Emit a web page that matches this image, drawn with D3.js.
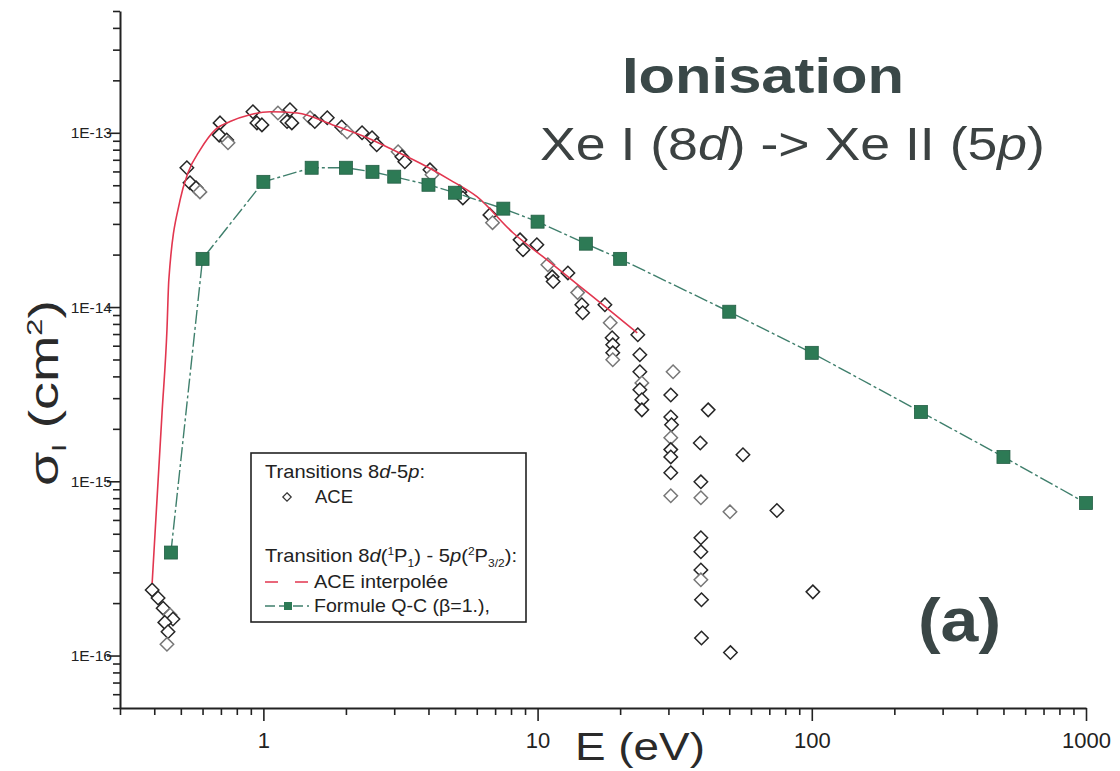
<!DOCTYPE html>
<html>
<head>
<meta charset="utf-8">
<script src="https://cdn.jsdelivr.net/npm/d3@7"></script>
<style>
  body { margin: 0; background: #fff; }
  text { font-family: "Liberation Sans", Arial, sans-serif; }
</style>
</head>
<body>
<svg width="1120" height="771"></svg>
<script>
// ACE points (transitions 8d-5p), E in eV, sigma in cm2
const aceE = [0.393, 0.413, 0.431, 0.457, 0.468, 0.437, 0.449, 0.445,
  0.526, 0.54, 0.568, 0.587,
  0.695, 0.69, 0.735, 0.743,
  0.916, 0.947, 0.988,
  1.13, 1.25, 1.22, 1.27,
  1.48, 1.54, 1.71,
  1.93, 2.02,
  2.29, 2.49, 2.59,
  3.10, 3.2, 3.28,
  4.05, 4.12,
  5.21, 5.34,
  6.7, 6.85,
  8.63, 8.85, 9.94,
  10.9, 11.3, 11.4, 12.9,
  14.0, 14.5, 14.6, 17.6,
  18.4, 18.7, 18.8, 18.8, 18.8,
  23.2, 23.6, 23.6, 24.0, 23.6, 24.0, 24.0,
  31.2, 30.6, 30.6, 30.8, 30.6, 30.6, 30.6, 30.6, 30.6,
  41.9, 39.2, 39.4, 39.4, 39.4, 39.4, 39.4, 39.4, 39.6, 39.6,
  56.1, 50.3, 74.6, 50.5, 100.9];
const aceSigma = [2.38e-16, 2.14e-16, 1.87e-16, 1.71e-16, 1.62e-16, 1.55e-16, 1.37e-16, 1.16e-16,
  6.3e-14, 5.17e-14, 4.83e-14, 4.58e-14,
  1.14e-13, 9.7e-14, 9.1e-14, 8.76e-14,
  1.32e-13, 1.14e-13, 1.11e-13,
  1.30e-13, 1.355e-13, 1.16e-13, 1.14e-13,
  1.22e-13, 1.16e-13, 1.22e-13,
  1.08e-13, 1.01e-13,
  1.0e-13, 9.36e-14, 8.53e-14,
  7.78e-14, 7.28e-14, 6.82e-14,
  6.13e-14, 5.74e-14,
  4.58e-14, 4.23e-14,
  3.38e-14, 3.05e-14,
  2.43e-14, 2.13e-14, 2.28e-14,
  1.75e-14, 1.49e-14, 1.40e-14, 1.57e-14,
  1.21e-14, 1.03e-14, 9.27e-15, 1.03e-14,
  8.13e-15, 6.67e-15, 6.07e-15, 5.46e-15, 4.98e-15,
  6.93e-15, 5.32e-15, 4.25e-15, 3.67e-15, 3.35e-15, 2.94e-15, 2.57e-15,
  4.25e-15, 3.13e-15, 2.34e-15, 2.11e-15, 1.78e-15, 1.52e-15, 1.38e-15, 1.12e-15, 8.26e-16,
  2.57e-15, 1.66e-15, 9.93e-16, 8.04e-16, 4.74e-16, 3.94e-16, 3.1e-16, 2.72e-16, 2.09e-16, 1.26e-16,
  1.42e-15, 6.68e-16, 6.8e-16, 1.04e-16, 2.32e-16];

// ACE interpolee (8d 1P1 - 5p 2P3/2)
const interpE = [0.393, 0.427, 0.445, 0.452, 0.497, 0.531, 0.588, 0.667, 0.756, 0.894, 1.06, 1.33,
  1.79, 2.39, 2.97, 3.95, 4.79, 6.01, 8.13, 10.8, 14.3, 18.8, 23.1];
const interpSigma = [2.61e-16, 2.47e-15, 7.4e-15, 1.43e-14, 4.12e-14, 5.89e-14, 7.98e-14, 1.04e-13, 1.16e-13, 1.27e-13, 1.32e-13, 1.30e-13,
  1.11e-13, 9.36e-14, 7.98e-14, 6.38e-14, 5.37e-14, 4.3e-14, 2.67e-14, 1.87e-14, 1.31e-14, 9.27e-15, 7.1e-15];

// Formule Q-C (beta=1.)
const qcE = [0.46, 0.6, 1, 1.5, 2, 2.5, 3, 4, 5, 7.5, 10, 15, 20, 50, 100, 250, 500, 1000];
const qcSigma = [3.9e-16, 1.89e-14, 5.23e-14, 6.3e-14, 6.3e-14, 5.97e-14, 5.6e-14, 5.03e-14, 4.53e-14,
  3.67e-14, 3.09e-14, 2.31e-14, 1.89e-14, 9.4e-15, 5.46e-15, 2.5e-15, 1.38e-15, 7.5e-16];

const xMajor = [1, 10, 100, 1000];
const xLabels = ["1", "10", "100", "1000"];
const yMajor = [1e-13, 1e-14, 1e-15, 1e-16];
const yLabels = ["1E-13", "1E-14", "1E-15", "1E-16"];

const svg = d3.select("svg");
const plotLeft = 120, plotRight = 1086, plotTop = 11, plotBottom = 708;

const x = d3.scaleLog().domain([0.3, 1000]).range([plotLeft, plotRight]);
const y = d3.scaleLog().domain([5e-17, 5e-13]).range([plotBottom, plotTop]);

// minor ticks 2..9 per decade
const xMinor = [];
for (let d = 0.1; d < 1000; d *= 10) {
  for (let k = 2; k <= 9; k++) {
    const v = +(d * k).toPrecision(3);
    if (v >= 0.3 && v <= 1000) xMinor.push(v);
  }
}
const yMinor = [];
for (let d = 1e-17; d < 1e-12; d *= 10) {
  for (let k = 2; k <= 9; k++) {
    const v = +(d * k).toPrecision(3);
    if (v >= 5e-17 && v <= 5e-13) yMinor.push(v);
  }
}

const axisColor = "#222";

// x axis
const gx = svg.append("g").attr("transform", "translate(0," + plotBottom + ")");
gx.call(d3.axisBottom(x).tickValues(xMinor).tickSize(7).tickSizeOuter(0).tickFormat(""));
gx.call(g => g.select(".domain").remove());
const gx2 = svg.append("g").attr("transform", "translate(0," + plotBottom + ")");
gx2.call(d3.axisBottom(x).tickValues(xMajor).tickSize(13).tickSizeOuter(0)
  .tickFormat((d, i) => xLabels[i]));
gx2.selectAll("text").attr("font-size", 22).attr("dy", "1.1em").attr("fill", axisColor)
  .style("font-family", "Liberation Sans, Arial, sans-serif");

// y axis
const gy = svg.append("g").attr("transform", "translate(" + plotLeft + ",0)");
gy.call(d3.axisLeft(y).tickValues(yMinor).tickSize(7).tickSizeOuter(0).tickFormat(""));
gy.call(g => g.select(".domain").remove());
const gy2 = svg.append("g").attr("transform", "translate(" + plotLeft + ",0)");
gy2.call(d3.axisLeft(y).tickValues(yMajor).tickSize(13).tickSizeOuter(0)
  .tickFormat((d, i) => yLabels[i]));
gy2.selectAll("text").attr("font-size", 15.5).attr("x", -8).attr("fill", axisColor)
  .style("font-family", "Liberation Sans, Arial, sans-serif");

svg.selectAll(".domain").attr("stroke", axisColor).attr("stroke-width", 2);
svg.selectAll(".tick line").attr("stroke", axisColor).attr("stroke-width", 1.6);

// ACE diamonds
const diamond = d3.symbol().type(d3.symbolDiamond2).size(115);
const aceData = aceE.map((e, i) => ({e: e, s: aceSigma[i]}));
svg.append("g").selectAll("path")
  .data(aceData)
  .enter()
  .append("path")
  .attr("d", diamond)
  .attr("transform", d => "translate(" + x(d.e) + "," + y(d.s) + ")")
  .attr("fill", "#fff")
  .attr("stroke", (d, i) => i % 4 === 3 ? "#777" : "#262626")
  .attr("stroke-width", 1.5);

// red interpolated curve
const interpData = interpE.map((e, i) => ({e: e, s: interpSigma[i]}));
const line = d3.line()
  .x(d => x(d.e))
  .y(d => y(d.s))
  .curve(d3.curveMonotoneX);
svg.append("path")
  .datum(interpData)
  .attr("d", line)
  .attr("fill", "none")
  .attr("stroke", "#e2364f")
  .attr("stroke-width", 1.6);

// green Q-C line and squares
const qcData = qcE.map((e, i) => ({e: e, s: qcSigma[i]}));
svg.append("path")
  .datum(qcData)
  .attr("d", d3.line().x(d => x(d.e)).y(d => y(d.s)))
  .attr("fill", "none")
  .attr("stroke", "#3f7f6c")
  .attr("stroke-width", 1.4)
  .attr("stroke-dasharray", "14,3,3,3");
svg.append("g").selectAll("rect")
  .data(qcData)
  .enter()
  .append("rect")
  .attr("x", d => x(d.e) - 6.5)
  .attr("y", d => y(d.s) - 6.5)
  .attr("width", 13)
  .attr("height", 13)
  .attr("fill", "#2d7a55")
  .attr("stroke", "#245f45")
  .attr("stroke-width", 0.8);

// titles
svg.append("text")
  .attr("x", 622).attr("y", 93)
  .attr("textLength", 282).attr("lengthAdjust", "spacingAndGlyphs")
  .attr("font-size", 50).attr("font-weight", "bold").attr("fill", "#3a4848")
  .text("Ionisation");

const sub = svg.append("text")
  .attr("x", 540).attr("y", 160)
  .attr("textLength", 505).attr("lengthAdjust", "spacingAndGlyphs")
  .attr("font-size", 46).attr("fill", "#3c4242");
sub.append("tspan").text("Xe I (8");
sub.append("tspan").attr("font-style", "italic").text("d");
sub.append("tspan").text(") -> Xe II (5");
sub.append("tspan").attr("font-style", "italic").text("p");
sub.append("tspan").text(")");

svg.append("text")
  .attr("x", 918).attr("y", 641)
  .attr("textLength", 83).attr("lengthAdjust", "spacingAndGlyphs")
  .attr("font-size", 62).attr("font-weight", "bold").attr("fill", "#3a4646")
  .text("(a)");

// axis titles
svg.append("text")
  .attr("x", 575).attr("y", 760)
  .attr("textLength", 130).attr("lengthAdjust", "spacingAndGlyphs")
  .attr("font-size", 39).attr("fill", "#2a2a2a")
  .text("E (eV)");

const yt = svg.append("text")
  .attr("transform", "translate(58,486) rotate(-90)")
  .attr("textLength", 186).attr("lengthAdjust", "spacingAndGlyphs")
  .attr("font-size", 40).attr("fill", "#2a2a2a");
yt.append("tspan").text("σ");
yt.append("tspan").attr("font-size", 20).attr("dy", 8).text("I");
yt.append("tspan").attr("dy", -8).text(" (cm");
yt.append("tspan").attr("font-size", 22).attr("dy", -16).text("2");
yt.append("tspan").attr("dy", 16).text(")");

// legend
const lg = svg.append("g");
lg.append("rect")
  .attr("x", 251).attr("y", 453).attr("width", 275).attr("height", 169)
  .attr("fill", "#fff").attr("stroke", "#222").attr("stroke-width", 1.6);

const fs = 18.5;
const t1 = lg.append("text").attr("x", 265).attr("y", 478).attr("font-size", fs).attr("fill", "#222")
  .attr("textLength", 160).attr("lengthAdjust", "spacingAndGlyphs");
t1.append("tspan").text("Transitions 8");
t1.append("tspan").attr("font-style", "italic").text("d");
t1.append("tspan").text("-5");
t1.append("tspan").attr("font-style", "italic").text("p");
t1.append("tspan").text(":");

lg.append("path")
  .attr("d", d3.symbol().type(d3.symbolDiamond2).size(45))
  .attr("transform", "translate(287,497)")
  .attr("fill", "#fff").attr("stroke", "#333").attr("stroke-width", 1.2);
lg.append("text").attr("x", 315).attr("y", 503).attr("font-size", fs).attr("fill", "#222")
  .attr("textLength", 38).attr("lengthAdjust", "spacingAndGlyphs").text("ACE");

const t2 = lg.append("text").attr("x", 265).attr("y", 562).attr("font-size", fs).attr("fill", "#222")
  .attr("textLength", 252).attr("lengthAdjust", "spacingAndGlyphs");
t2.append("tspan").text("Transition 8");
t2.append("tspan").attr("font-style", "italic").text("d");
t2.append("tspan").text("(");
t2.append("tspan").attr("font-size", 11).attr("dy", -7).text("1");
t2.append("tspan").attr("dy", 7).text("P");
t2.append("tspan").attr("font-size", 11).attr("dy", 5).text("1");
t2.append("tspan").attr("dy", -5).text(") - 5");
t2.append("tspan").attr("font-style", "italic").text("p");
t2.append("tspan").text("(");
t2.append("tspan").attr("font-size", 11).attr("dy", -7).text("2");
t2.append("tspan").attr("dy", 7).text("P");
t2.append("tspan").attr("font-size", 11).attr("dy", 5).text("3/2");
t2.append("tspan").attr("dy", -5).text("):");

lg.append("line")
  .attr("x1", 265).attr("x2", 309).attr("y1", 582).attr("y2", 582)
  .attr("stroke", "#e2364f").attr("stroke-width", 1.3).attr("stroke-dasharray", "13,17");
lg.append("text").attr("x", 314).attr("y", 588).attr("font-size", fs).attr("fill", "#222")
  .attr("textLength", 134).attr("lengthAdjust", "spacingAndGlyphs").text("ACE interpolée");

lg.append("line")
  .attr("x1", 265).attr("x2", 309).attr("y1", 606).attr("y2", 606)
  .attr("stroke", "#3f7f6c").attr("stroke-width", 1.3).attr("stroke-dasharray", "10,4");
lg.append("rect")
  .attr("x", 284).attr("y", 602).attr("width", 8).attr("height", 8)
  .attr("fill", "#2d7a55");
lg.append("text").attr("x", 314).attr("y", 612).attr("font-size", fs).attr("fill", "#222")
  .attr("textLength", 176).attr("lengthAdjust", "spacingAndGlyphs").text("Formule Q-C (β=1.),");
</script>
</body>
</html>
